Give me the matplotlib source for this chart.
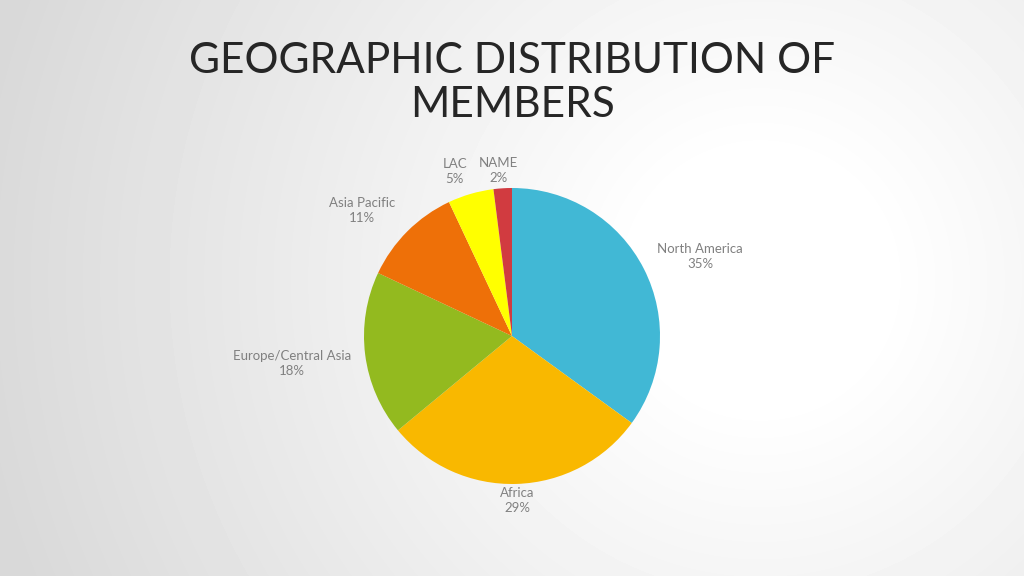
import numpy as np
import matplotlib
matplotlib.use('Agg')
import matplotlib.pyplot as plt

plt.rcParams['font.family'] = ['Lato', 'DejaVu Sans']

# data
regions = ['North America', 'Africa', 'Europe/Central Asia', 'Asia Pacific', 'LAC', 'NAME']
shares = [35, 29, 18, 11, 5, 2]
colors = ['#41B8D5', '#F9B800', '#93BA1F', '#EE7008', '#FFFF00', '#D13B40']

# label placement tweaks (distance in radii, angle shift in deg)
lab_dist = [1.38, 1.11, 1.50, 1.32, 1.18, 1.12]
lab_shift = [-4, 0, 0, 5, 3, 1]

fig = plt.figure(figsize=(10.24, 5.76), dpi=100)

# background gradient
bg = fig.add_axes([0, 0, 1, 1])
yy, xx = np.mgrid[0:576, 0:1024]
d = np.hypot(xx - 760, (yy - 280)) / 1024
val = 1 - 0.15 * np.clip((d - 0.12) / 0.65, 0, 1)
bg.imshow(val, cmap='gray', vmin=0, vmax=1, aspect='auto', extent=[0, 1, 0, 1])
bg.set_axis_off()

fig.text(0.5, 0.894, 'GEOGRAPHIC DISTRIBUTION OF', ha='center', va='center',
         fontsize=30.5, color='#262626', fontweight='normal')
fig.text(0.5, 0.818, 'MEMBERS', ha='center', va='center',
         fontsize=30.5, color='#262626', fontweight='normal')

ax = fig.add_axes([364 / 1024, 92 / 576, 296 / 1024, 296 / 576])
wedges, texts = ax.pie(shares, colors=colors, startangle=90, counterclock=False,
                       labels=[f'{r}\n{s}%' for r, s in zip(regions, shares)],
                       labeldistance=1.2,
                       textprops=dict(color='#808080', fontsize=9.5, linespacing=1.3))
for w, t, dist, sh in zip(wedges, texts, lab_dist, lab_shift):
    ang = np.deg2rad((w.theta1 + w.theta2) / 2 + sh)
    t.set_position((dist * np.cos(ang), dist * np.sin(ang)))
    t.set_ha('center')
    t.set_va('center')
ax.set_xlim(-1, 1)
ax.set_ylim(-1, 1)

fig.savefig('out.png', dpi=100)
